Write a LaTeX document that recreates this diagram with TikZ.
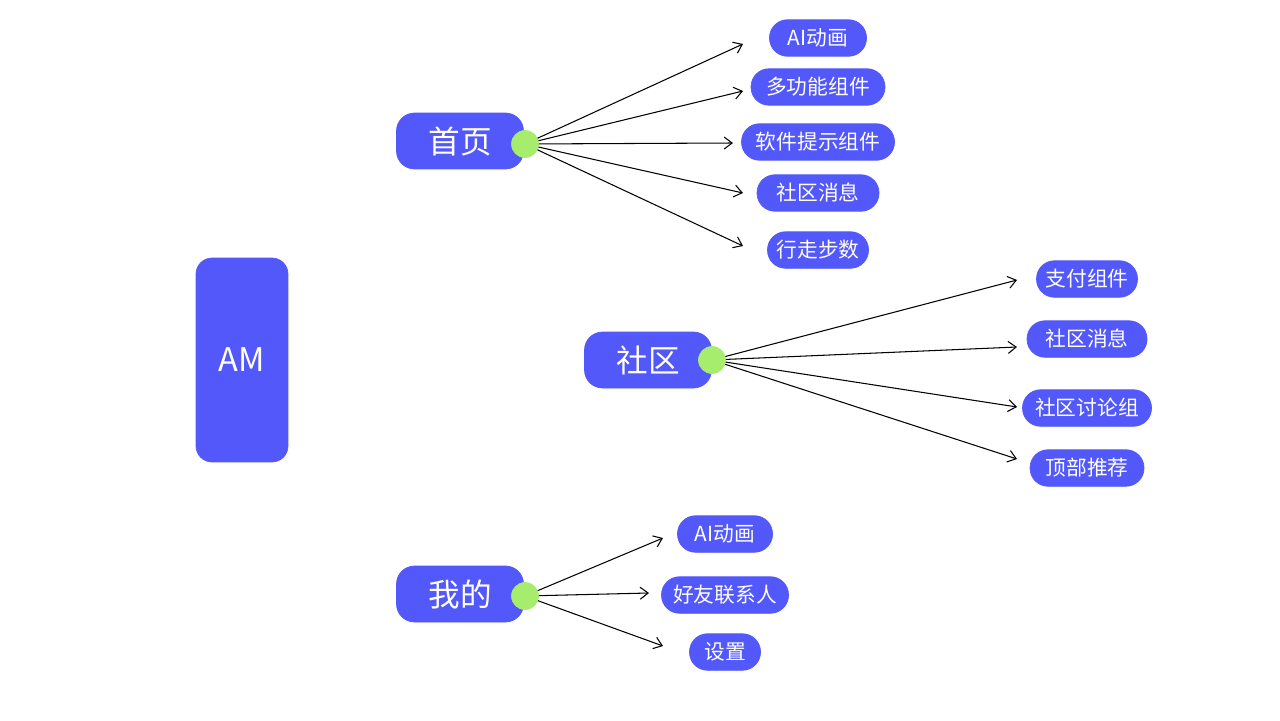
\documentclass[tikz,border=0pt]{standalone}
\usepackage{fontspec}
\setmainfont{Noto Sans CJK SC}
\usetikzlibrary{arrows.meta,positioning}
\definecolor{nodeblue}{RGB}{82,88,250}
\definecolor{dotgreen}{RGB}{166,237,110}

\begin{document}
\begin{tikzpicture}[
    x=0.02cm,y=-0.02cm,
    every node/.style={align=center,text=white},
    rootbox/.style={draw=nodeblue,fill=nodeblue,rounded corners=0.32cm,
                    minimum width=1.84cm,minimum height=4.08cm,font=\fontsize{18.5}{20}\selectfont},
    pagebox/.style={draw=nodeblue,fill=nodeblue,rounded corners=0.36cm,
                    minimum width=2.54cm,minimum height=1.12cm,font=\fontsize{18}{20}\selectfont},
    leaf/.style={draw=nodeblue,fill=nodeblue,rounded corners=0.36cm,
                 minimum height=0.73cm,inner xsep=0pt,font=\fontsize{11.8}{13}\selectfont},
    joint/.style={circle,fill=dotgreen,draw=dotgreen,minimum size=0.54cm,inner sep=0pt},
    arrow/.style={-{Straight Barb[length=1.6mm,width=2.4mm]},line width=0.6pt,draw=black}
]
\useasboundingbox (0,0) rectangle (1280,720);

\node[rootbox] (am) at (242,360) {AM};

% three pages
\node[pagebox] (home) at (460,141) {首页};
\node[pagebox] (community) at (648,360) {社区};
\node[pagebox] (mine) at (460,594) {我的};

% home leaves
\node[leaf,minimum width=1.94cm] (homeanim) at (818,38) {AI动画};
\node[leaf,minimum width=2.68cm] (homemulti) at (818,87) {多功能组件};
\node[leaf,minimum width=3.06cm] (hometip) at (818,142) {软件提示组件};
\node[leaf,minimum width=2.44cm] (homemsg) at (818,193) {社区消息};
\node[leaf,minimum width=2.02cm] (homestep) at (818,250) {行走步数};

% community leaves
\node[leaf,minimum width=2.02cm] (compay) at (1087,279) {支付组件};
\node[leaf,minimum width=2.40cm] (commsg) at (1087,339) {社区消息};
\node[leaf,minimum width=2.58cm] (comgroup) at (1087,408) {社区讨论组};
\node[leaf,minimum width=2.28cm] (comtop) at (1087,468) {顶部推荐};

% mine leaves
\node[leaf,minimum width=1.90cm] (mineanim) at (725,534) {AI动画};
\node[leaf,minimum width=2.54cm] (minefriend) at (725,595) {好友联系人};
\node[leaf,minimum width=1.42cm] (mineset) at (725,652) {设置};

% green joints on the page boxes
\node[joint] (homedot) at (525,144) {};
\node[joint] (comdot) at (712,360) {};
\node[joint] (minedot) at (525,596) {};

% arrow ends
\coordinate (h1) at (743,44);
\coordinate (h2) at (743,91);
\coordinate (h3) at (733,143);
\coordinate (h4) at (743,193);
\coordinate (h5) at (743,246);
\coordinate (c1) at (1017,280);
\coordinate (c2) at (1017,347);
\coordinate (c3) at (1017,407);
\coordinate (c4) at (1017,459);
\coordinate (m1) at (663,538);
\coordinate (m2) at (649,593);
\coordinate (m3) at (663,646);

\foreach \e in {h1,h2,h3,h4,h5}
    \draw[arrow] (homedot) -- (\e);
\foreach \e in {c1,c2,c3,c4}
    \draw[arrow] (comdot) -- (\e);
\foreach \e in {m1,m2,m3}
    \draw[arrow] (minedot) -- (\e);
\end{tikzpicture}
\end{document}
